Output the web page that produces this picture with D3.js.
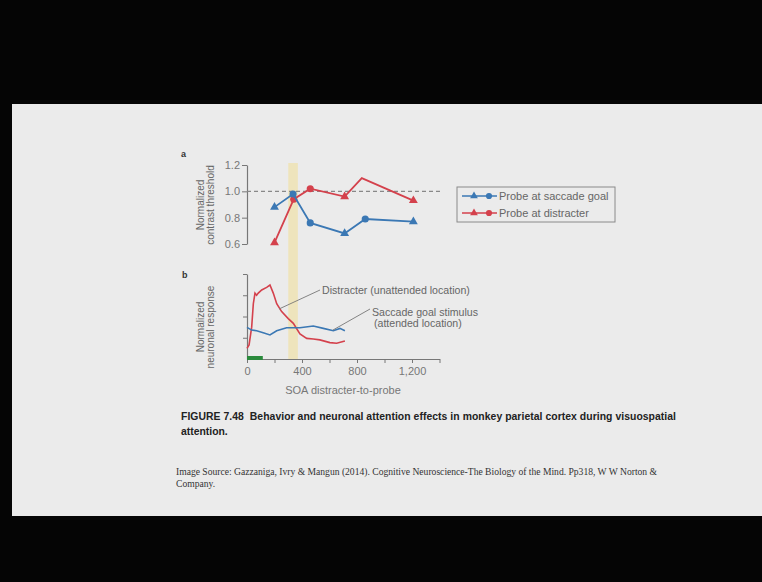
<!DOCTYPE html>
<html>
<head>
<meta charset="utf-8">
<script src="https://cdn.jsdelivr.net/npm/d3@7"></script>
<style>
  body { margin: 0; background: #050505; }
  svg { display: block; }
</style>
</head>
<body>
<svg width="762" height="582" font-family="Liberation Sans, Arial, sans-serif"></svg>
<script>
// panel a: behavioural thresholds
var blueX = [200, 335, 460, 710, 860, 1210];
var blueY = [0.88, 0.98, 0.76, 0.68, 0.79, 0.77];
var blueShape = ["tri", "circ", "circ", "tri", "circ", "tri"];
var redX = [200, 340, 460, 710, 835, 1210];
var redY = [0.61, 0.94, 1.02, 0.96, 1.10, 0.93];
var redShape = ["tri", "circ", "circ", "tri", "none", "tri"];
var aTicks = [0.6, 0.8, 1.0, 1.2];

// panel b: neuronal response traces
var distX = [0, 15, 34, 46, 58, 70, 82, 107, 143, 167, 191, 216, 252, 300, 337, 385, 434, 482, 530, 603, 652, 712];
var distY = [0.5, 0.66, 1.5, 2.6, 3.1, 3.0, 3.1, 3.25, 3.37, 3.48, 3.1, 2.6, 2.23, 1.9, 1.68, 1.18, 0.97, 0.94, 0.9, 0.77, 0.74, 0.85];
var sacX = [0, 34, 70, 118, 167, 216, 288, 385, 482, 555, 628, 676, 712];
var sacY = [1.49, 1.36, 1.33, 1.24, 1.13, 1.33, 1.47, 1.47, 1.55, 1.44, 1.33, 1.44, 1.33];
var bXTicks = [0, 200, 400, 600, 800, 1000, 1200, 1400];
var bXLabels = [0, 400, 800, 1200];
var stimulus = [0, 115];
var band = [300, 370];

var blue = "#3b78b4", red = "#d4414c";

var svg = d3.select("svg");
svg.append("rect").attr("width", 762).attr("height", 582).attr("fill", "#050505");
svg.append("rect").attr("x", 12).attr("y", 104).attr("width", 750).attr("height", 412).attr("fill", "#ebebeb");

var x = d3.scaleLinear().domain([0, 1400]).range([247, 439.5]);
var ya = d3.scaleLinear().domain([0.6, 1.2]).range([244, 165]);
var yb = d3.scaleLinear().domain([0, 4]).range([359, 274]);

// highlight band across both panels
svg.append("rect")
    .attr("x", x(band[0])).attr("width", x(band[1]) - x(band[0]))
    .attr("y", 163).attr("height", 359 - 163)
    .attr("fill", "#efe3b4").attr("opacity", 0.85);

function styleAxis(g) {
    g.attr("font-family", null);
    g.select(".domain").attr("stroke", "#777").attr("stroke-width", 1.2);
    g.selectAll(".tick line").attr("stroke", "#777");
    g.selectAll(".tick text").attr("fill", "#777").attr("font-size", 11);
}

// ---- panel a ----
svg.append("text").attr("x", 181).attr("y", 157).attr("font-size", 9).attr("font-weight", "bold").attr("fill", "#333").text("a");

var gA = svg.append("g").attr("transform", "translate(247,0)")
    .call(d3.axisLeft(ya).tickValues(aTicks).tickFormat(d3.format(".1f")).tickSize(5).tickPadding(2).tickSizeOuter(0));
styleAxis(gA);

var ylabA = svg.append("text").attr("transform", "translate(204,205) rotate(-90)")
    .attr("text-anchor", "middle").attr("font-size", 10).attr("fill", "#666");
ylabA.append("tspan").attr("x", 0).attr("dy", 0).text("Normalized");
ylabA.append("tspan").attr("x", 0).attr("dy", 10).text("contrast threshold");

svg.append("line").attr("x1", 247).attr("x2", 441).attr("y1", ya(1.0)).attr("y2", ya(1.0))
    .attr("stroke", "#888").attr("stroke-dasharray", "4,3").attr("stroke-width", 1.2);

var line = d3.line().x(function(d) { return x(d[0]); }).y(function(d) { return d[1]; });

function drawSeries(xs, ys, shapes, color) {
    var pts = xs.map(function(v, i) { return [v, ya(ys[i])]; });
    svg.append("path").attr("d", line(pts)).attr("fill", "none")
        .attr("stroke", color).attr("stroke-width", 1.8);
    pts.forEach(function(p, i) {
        if (shapes[i] === "none") return;
        var sym = shapes[i] === "tri" ? d3.symbolTriangle : d3.symbolCircle;
        svg.append("path").attr("d", d3.symbol().type(sym).size(shapes[i] === "tri" ? 34 : 40)())
            .attr("transform", "translate(" + x(p[0]) + "," + p[1] + ")")
            .attr("fill", color);
    });
}
drawSeries(redX, redY, redShape, red);
drawSeries(blueX, blueY, blueShape, blue);

// legend
var leg = svg.append("g");
leg.append("rect").attr("x", 457).attr("y", 187).attr("width", 158).attr("height", 35)
    .attr("fill", "none").attr("stroke", "#8a8a8a").attr("stroke-width", 1);
[["Probe at saccade goal", blue], ["Probe at distracter", red]].forEach(function(it, i) {
    var yy = 196 + i * 17;
    leg.append("line").attr("x1", 462).attr("x2", 497).attr("y1", yy).attr("y2", yy)
        .attr("stroke", it[1]).attr("stroke-width", 1.6);
    leg.append("path").attr("d", d3.symbol().type(d3.symbolTriangle).size(26)())
        .attr("transform", "translate(474," + yy + ")").attr("fill", it[1]);
    leg.append("path").attr("d", d3.symbol().type(d3.symbolCircle).size(30)())
        .attr("transform", "translate(489," + yy + ")").attr("fill", it[1]);
    leg.append("text").attr("x", 499).attr("y", yy + 4).attr("font-size", 11)
        .attr("fill", "#666").text(it[0]);
});

// ---- panel b ----
svg.append("text").attr("x", 182).attr("y", 278).attr("font-size", 9).attr("font-weight", "bold").attr("fill", "#333").text("b");

var gBy = svg.append("g").attr("transform", "translate(247,0)")
    .call(d3.axisLeft(yb).tickValues([1, 2, 3, 4]).tickFormat("").tickSize(4).tickSizeOuter(0));
styleAxis(gBy);

var gBx = svg.append("g").attr("transform", "translate(0,359)")
    .call(d3.axisBottom(x).tickValues(bXTicks).tickSize(4).tickPadding(4).tickSizeOuter(0)
        .tickFormat(function(d) { return bXLabels.indexOf(d) >= 0 ? d3.format(",")(d) : ""; }));
styleAxis(gBx);

var ylabB = svg.append("text").attr("transform", "translate(204,327) rotate(-90)")
    .attr("text-anchor", "middle").attr("font-size", 10).attr("fill", "#666");
ylabB.append("tspan").attr("x", 0).attr("dy", 0).text("Normalized");
ylabB.append("tspan").attr("x", 0).attr("dy", 10).text("neuronal response");

svg.append("text").attr("x", 343).attr("y", 394).attr("text-anchor", "middle")
    .attr("font-size", 11).attr("fill", "#777").text("SOA distracter-to-probe");

svg.append("rect").attr("x", x(stimulus[0])).attr("width", x(stimulus[1]) - x(stimulus[0]))
    .attr("y", 356).attr("height", 4).attr("fill", "#2a8a3c");

var lineB = d3.line().x(function(d) { return x(d[0]); }).y(function(d) { return yb(d[1]); });
svg.append("path").attr("d", lineB(distX.map(function(v, i) { return [v, distY[i]]; })))
    .attr("fill", "none").attr("stroke", red).attr("stroke-width", 1.6);
svg.append("path").attr("d", lineB(sacX.map(function(v, i) { return [v, sacY[i]]; })))
    .attr("fill", "none").attr("stroke", blue).attr("stroke-width", 1.6);

// annotations
svg.append("line").attr("x1", 320).attr("y1", 290).attr("x2", 279).attr("y2", 309)
    .attr("stroke", "#777").attr("stroke-width", 0.9);
svg.append("text").attr("x", 322).attr("y", 294).attr("font-size", 10.6).attr("fill", "#666")
    .text("Distracter (unattended location)");
svg.append("line").attr("x1", 370).attr("y1", 309).attr("x2", 333).attr("y2", 330)
    .attr("stroke", "#777").attr("stroke-width", 0.9);
svg.append("text").attr("x", 372).attr("y", 315.5).attr("font-size", 10.6).attr("fill", "#666")
    .text("Saccade goal stimulus");
svg.append("text").attr("x", 374).attr("y", 327).attr("font-size", 10.6).attr("fill", "#666")
    .text("(attended location)");

// caption and source
var cap = svg.append("text").attr("font-size", 10.4).attr("font-weight", "bold").attr("fill", "#222");
cap.append("tspan").attr("x", 181).attr("y", 420).attr("textLength", 495)
    .text("FIGURE 7.48\u00a0\u00a0Behavior and neuronal attention effects in monkey parietal cortex during visuospatial");
cap.append("tspan").attr("x", 181).attr("y", 435).text("attention.");

var src = svg.append("text").attr("font-size", 9.6).attr("fill", "#333")
    .attr("font-family", "Liberation Serif, Times New Roman, serif");
src.append("tspan").attr("x", 176).attr("y", 475).attr("textLength", 481)
    .text("Image Source: Gazzaniga, Ivry & Mangun (2014). Cognitive Neuroscience-The Biology of the Mind. Pp318, W W Norton &");
src.append("tspan").attr("x", 176).attr("y", 487).text("Company.");
</script>
</body>
</html>
